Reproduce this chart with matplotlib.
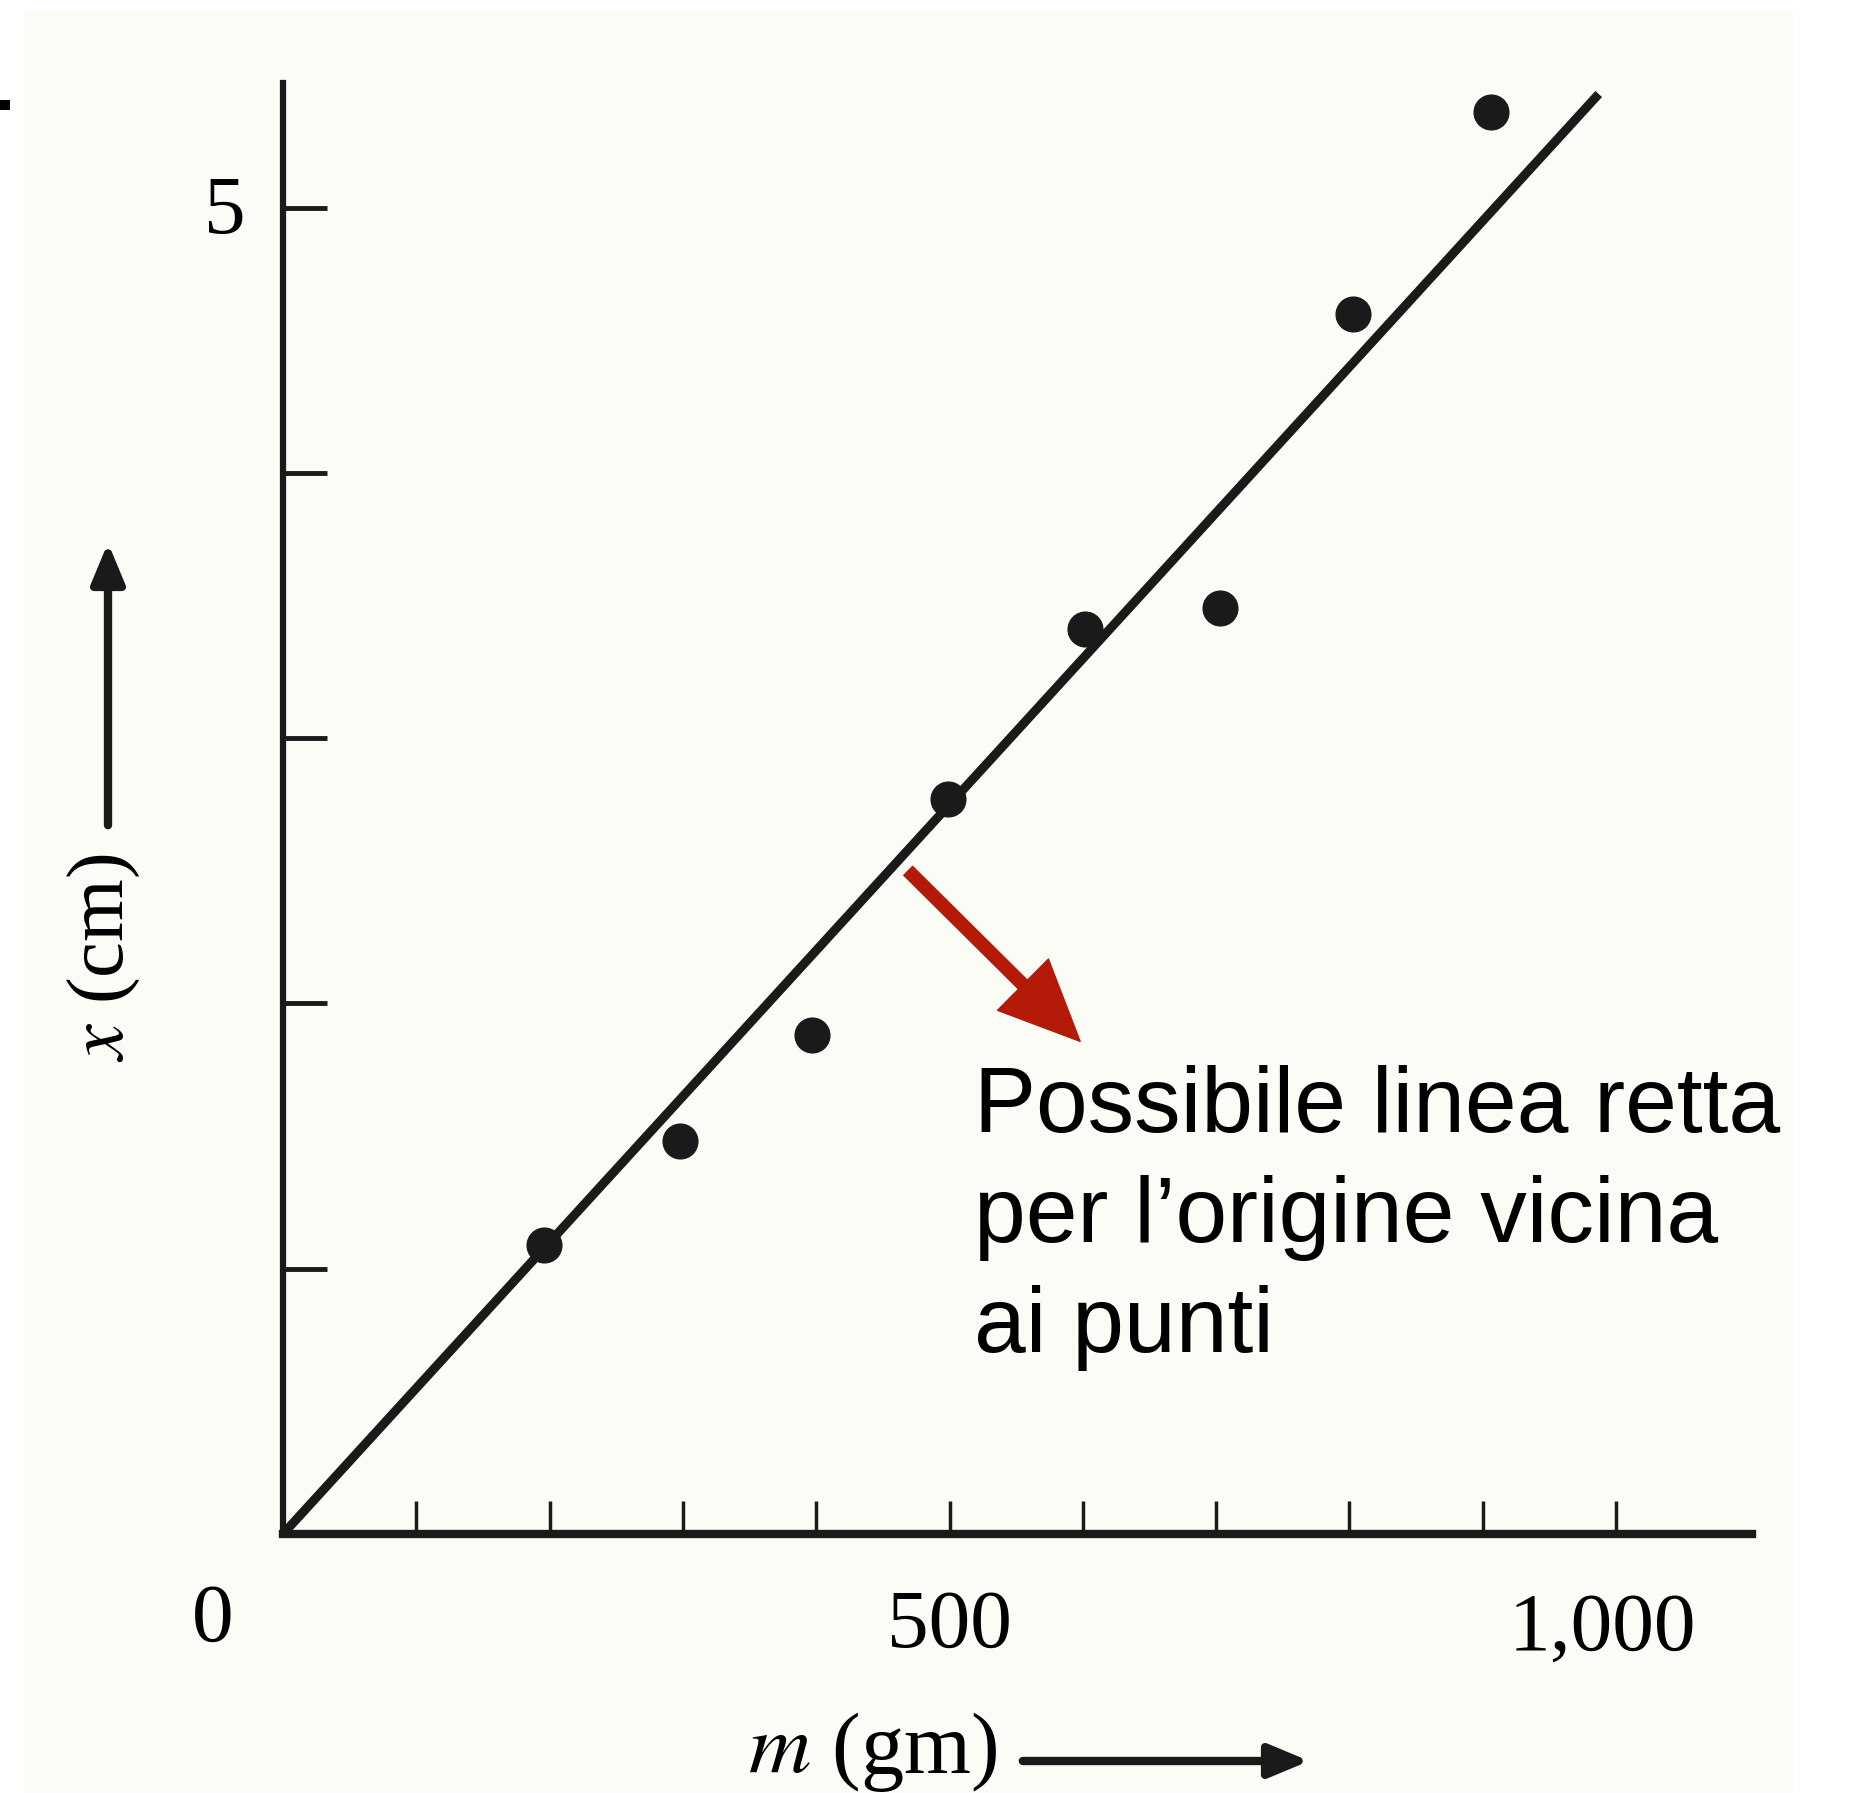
import matplotlib
matplotlib.use("Agg")
import matplotlib.pyplot as plt
from matplotlib.patches import Rectangle, FancyArrowPatch

# load (g) and extension (cm)
masse = [196, 298, 397, 499, 602, 703, 803, 906]
allung = [1.09, 1.48, 1.88, 2.77, 3.41, 3.49, 4.60, 5.36]
x_ticks = [100, 200, 300, 400, 500, 600, 700, 800, 900, 1000]
y_ticks = [1, 2, 3, 4, 5]
# hand drawn line through the origin
pendenza = 0.0055
m_fine = 987

plt.rcParams['mathtext.fontset'] = 'stix'
W, H = 1850, 1793
fig = plt.figure(figsize=(W / 100, H / 100), dpi=100)
fig.patch.set_facecolor('white')

# cream scan background + little black mark on the left edge
fig.patches.append(Rectangle((24 / W, 0), (1793 - 24) / W, (H - 11) / H,
                             transform=fig.transFigure, facecolor='#fcfcf7',
                             edgecolor='none', zorder=-10))
fig.patches.append(Rectangle((0, (H - 110) / H), 10 / W, 10 / H,
                             transform=fig.transFigure, facecolor='black',
                             edgecolor='none', zorder=-9))

ax = fig.add_axes([283 / W, (H - 1534) / H, (1752 - 283) / W, (1534 - 83) / H])
ax.set_facecolor('none')
ax.set_xlim(0, 1102)
ax.set_ylim(0, 5.47)
for s in ['top', 'right']:
    ax.spines[s].set_visible(False)
ax.spines['left'].set_linewidth(4.5)
ax.spines['bottom'].set_linewidth(6)
for s in ['left', 'bottom']:
    ax.spines[s].set_color('#1a1a1a')

ax.set_xticks(x_ticks)
ax.set_yticks(y_ticks)
ax.set_xticklabels([])
ax.set_yticklabels([])
ax.tick_params(axis='x', direction='in', length=24, width=2.5, color='#1a1a1a')
ax.tick_params(axis='y', direction='in', length=32, width=3.5, color='#1a1a1a')

serif = 'Liberation Serif'
ax.text(-53, -0.33, '0', fontsize=60, family=serif, ha='center', va='center',
        clip_on=False)
ax.text(500, -0.35, '500', fontsize=60, family=serif, ha='center', va='center',
        clip_on=False)
ax.text(990, -0.36, '1,000', fontsize=60, family=serif, ha='center', va='center',
        clip_on=False)
ax.text(-44, 4.98, '5', fontsize=60, family=serif, ha='center', va='center',
        clip_on=False)

# fitted line and points
ax.plot([0, m_fine], [0, pendenza * m_fine], color='#1a1a1a', lw=6.5,
        solid_capstyle='butt', clip_on=False)
ax.plot(masse, allung, 'o', color='#1a1a1a', ms=25, clip_on=False)

# axis labels with arrows
fig.text(873 / W, 1 - 1752 / H, r'$m$ (gm)', fontsize=62, family=serif,
         ha='center', va='center')
fig.add_artist(FancyArrowPatch(
    (1020 / W, 1 - 1761 / H), (1312 / W, 1 - 1761 / H),
    transform=fig.transFigure, arrowstyle='-|>,head_length=0.6,head_width=0.25',
    mutation_scale=40, lw=6, color='#1a1a1a'))
fig.text(104 / W, 1 - 958 / H, r'$x$ (cm)', fontsize=58, family=serif,
         rotation=90, ha='center', va='center')
fig.add_artist(FancyArrowPatch(
    (108 / W, 1 - 828 / H), (108 / W, 1 - 540 / H),
    transform=fig.transFigure, arrowstyle='-|>,head_length=0.6,head_width=0.25',
    mutation_scale=40, lw=6, color='#1a1a1a'))

# red annotation
ax.annotate('', xy=(598, 1.857), xytext=(469, 2.50),
            arrowprops=dict(width=9, headwidth=52, headlength=58,
                            color='#b31a08', shrink=0))
ax.text(518, 1.77, 'Possibile linea retta\nper l\u2019origine vicina\nai punti',
        fontsize=67, family='Liberation Sans', ha='left', va='top',
        linespacing=1.36)

fig.savefig('out.png', dpi=100, facecolor='white')
